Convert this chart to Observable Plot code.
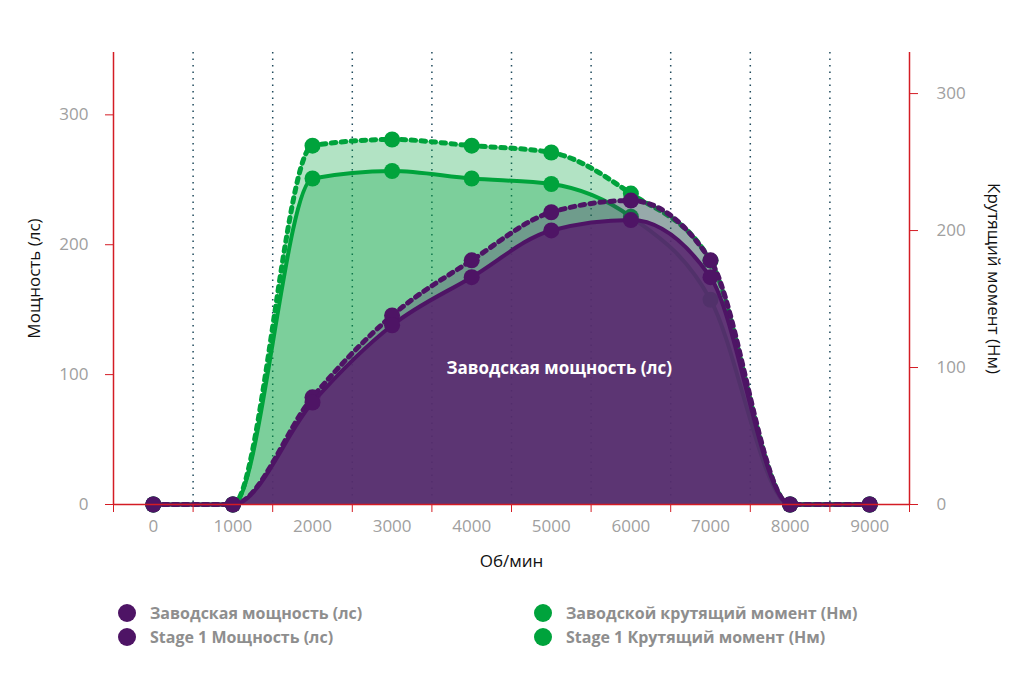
<!DOCTYPE html>
<html><head><meta charset="utf-8">
<script src="https://cdn.jsdelivr.net/npm/d3@7"></script>
<script src="https://cdn.jsdelivr.net/npm/@observablehq/plot@0.6"></script>
<style>
body{margin:0;background:#fff;font-family:"Open Sans",sans-serif;}
#chart{width:1024px;height:683px;position:relative;overflow:hidden;background:#fff}
#legend{position:relative;width:1024px;height:93px}
.item{position:absolute;height:24px;display:flex;align-items:center;font-weight:700;font-size:16px;color:#8e8e8e;white-space:nowrap}
.sw{width:18px;height:18px;border-radius:50%;margin-right:14px;flex:none}
</style></head><body><div id="chart"></div><script>
// Data
const rpm = [0, 1000, 2000, 3000, 4000, 5000, 6000, 7000, 8000, 9000];
const factoryPower = [0, 0, 78.5, 138, 175, 211, 219, 175, 0, 0];
const stage1Power = [0, 0, 82.5, 145.5, 188, 225, 234, 188, 0, 0];
const factoryTorque = [0, 0, 238, 243.5, 238, 234, 210, 149.5, 0, 0];
const stage1Torque = [0, 0, 262, 266.5, 262, 257, 227, 178, 0, 0];
const powerTicks = [0, 100, 200, 300];
const torqueTicks = [0, 100, 200, 300];
const gridRpm = [500, 1500, 2500, 3500, 4500, 5500, 6500, 7500, 8500];
const edgeRpm = [-500, 500, 1500, 2500, 3500, 4500, 5500, 6500, 7500, 8500, 9500];
const seriesNames = ["Заводская мощность (лс)", "Заводской крутящий момент (Нм)", "Stage 1 Мощность (лс)", "Stage 1 Крутящий момент (Нм)"];
const labelPos = [{rpm: 5100, hp: 105, text: "Заводская мощность (лс)"}];
const powerMax = 348, torqueMax = 330;

const red = "#d41c24", purple = "#4e1465", purpleFill = "#5a2770", green = "#00a33c", gray = "#a0a0a0";
const K = powerMax / torqueMax;
const rows = rpm.map((r, i) => ({rpm: r, fp: factoryPower[i], sp: stage1Power[i], ft: factoryTorque[i] * K, st: stage1Torque[i] * K}));
const curve = "monotone-x";
const dotted = {strokeWidth: 5, strokeDasharray: "4.5,5.5", curve};

const chart = Plot.plot({
  width: 1024, height: 590,
  marginLeft: 113, marginRight: 115, marginTop: 52, marginBottom: 86,
  style: {fontFamily: "Open Sans", fontSize: "17px", background: "#fff", color: "#111"},
  x: {domain: [-500, 9500]},
  y: {domain: [0, powerMax]},
  marks: [
    Plot.ruleX(gridRpm, {stroke: "#1f4a5c", strokeWidth: 1.5, strokeDasharray: "1.5,5"}),
    // Stage 1 torque
    Plot.areaY(rows, {x: "rpm", y: "st", fill: green, fillOpacity: 0.3, curve}),
    Plot.lineY(rows, {x: "rpm", y: "st", stroke: green, ...dotted}),
    Plot.dot(rows, {x: "rpm", y: "st", fill: green, r: 8}),
    // Factory torque
    Plot.areaY(rows, {x: "rpm", y: "ft", fill: green, fillOpacity: 0.3, curve}),
    Plot.lineY(rows, {x: "rpm", y: "ft", stroke: green, strokeWidth: 4, curve}),
    Plot.dot(rows, {x: "rpm", y: "ft", fill: green, r: 8}),
    // Stage 1 power
    Plot.areaY(rows, {x: "rpm", y: "sp", fill: purple, fillOpacity: 0.27, curve}),
    Plot.lineY(rows, {x: "rpm", y: "sp", stroke: purple, ...dotted}),
    Plot.dot(rows, {x: "rpm", y: "sp", fill: purple, r: 8}),
    // Factory power
    Plot.areaY(rows, {x: "rpm", y: "fp", fill: purpleFill, fillOpacity: 0.88, curve}),
    Plot.lineY(rows, {x: "rpm", y: "fp", stroke: purple, strokeWidth: 4, curve}),
    Plot.dot(rows, {x: "rpm", y: "fp", fill: purple, r: 8}),
    Plot.text(labelPos, {x: "rpm", y: "hp", text: "text", fill: "white", fontWeight: "bold", fontSize: 17}),
    // axes
    Plot.ruleY([0], {stroke: red, strokeWidth: 1.5}),
    Plot.ruleX([-500, 9500], {stroke: red, strokeWidth: 1.5}),
    Plot.axisX(rpm, {tickSize: 0, tickPadding: 15, color: gray, label: null, tickFormat: d => String(d)}),
    Plot.axisX(edgeRpm, {tickSize: 8, tickFormat: () => "", color: red, label: null}),
    Plot.axisY(powerTicks, {anchor: "left", tickSize: 0, tickPadding: 25, color: gray, label: null}),
    Plot.axisY(powerTicks, {anchor: "left", tickSize: 8, tickFormat: () => "", color: red, label: null}),
    Plot.axisY(torqueTicks.map(t => t * K), {anchor: "right", tickSize: 0, tickPadding: 27, color: gray, label: null, tickFormat: d => String(Math.round(d / K))}),
    Plot.axisY(torqueTicks.map(t => t * K), {anchor: "right", tickSize: 8, tickFormat: () => "", color: red, label: null}),
    Plot.text(["Об/мин"], {frameAnchor: "bottom", dy: 57, text: d => d, fill: "#111", textAnchor: "middle", lineAnchor: "middle"}),
    Plot.text(["Мощность (лс)"], {frameAnchor: "left", dx: -79, rotate: -90, text: d => d, fill: "#111", textAnchor: "middle", lineAnchor: "middle"}),
    Plot.text(["Крутящий момент (Нм)"], {frameAnchor: "right", dx: 84, rotate: 90, text: d => d, fill: "#111", textAnchor: "middle", lineAnchor: "middle"})
  ]
});
const root = document.getElementById("chart");
root.appendChild(chart);
const legend = document.createElement("div");
legend.id = "legend";
const colors = [purple, green, purple, green];
seriesNames.forEach((name, i) => {
  const it = document.createElement("div");
  it.className = "item";
  it.style.left = (i % 2 === 0 ? 118 : 534) + "px";
  it.style.top = (i < 2 ? 11 : 35) + "px";
  const sw = document.createElement("span");
  sw.className = "sw";
  sw.style.background = colors[i];
  const tx = document.createElement("span");
  tx.textContent = name;
  it.appendChild(sw); it.appendChild(tx);
  legend.appendChild(it);
});
root.appendChild(legend);
</script></body></html>
